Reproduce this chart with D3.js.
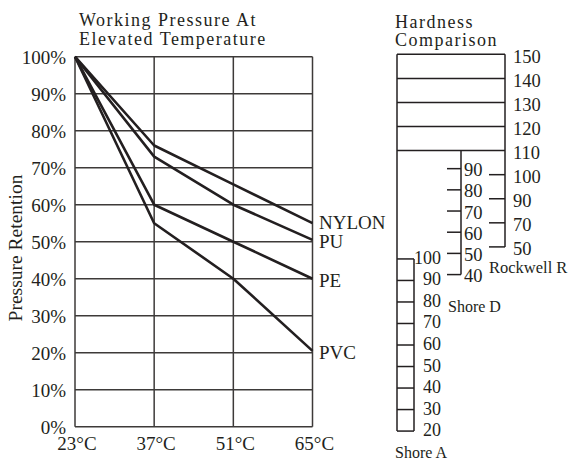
<!DOCTYPE html>
<html>
<head>
<meta charset="utf-8">
<script src="https://cdn.jsdelivr.net/npm/d3@7"></script>
<style>
  html, body { margin: 0; padding: 0; background: #fff; }
  svg { display: block; }
  text { font-family: "Liberation Serif", "Times New Roman", serif; fill: #231f20; }
</style>
</head>
<body>
<svg id="chart" width="568" height="460"></svg>
<script>
// --- working pressure data ---
const temps = [23, 37, 51, 65];
const tempLabels = ["23°C", "37°C", "51°C", "65°C"];
const percentTicks = [0, 10, 20, 30, 40, 50, 60, 70, 80, 90, 100];
const materials = ["NYLON", "PU", "PE", "PVC"];
const nylon = [100, 76, 65.5, 55];
const pu = [100, 73, 60, 50.5];
const pe = [100, 60, 50, 40];
const pvc = [100, 55, 40, 20.5];

// --- hardness comparison data ---
const rockwellR = [150, 140, 130, 120, 110, 100, 90, 70, 50]; // one row each
const rockwellBox = [150, 140, 130, 120, 110]; // boxed part
const shoreD = [90, 80, 70, 60, 50, 40];
const shoreDRows = [4.75, 9.15]; // rows where 90 / 40 line up
const shoreA = [100, 90, 80, 70, 60, 50, 40, 30, 20];
const shoreARows = [8.5, 15.65]; // rows where 100 / 20 line up

const INK = "#231f20";
const svg = d3.select("#chart");

// ---------------- left chart ----------------
const x = d3.scaleLinear().domain([23, 65]).range([75, 312.5]);
const y = d3.scaleLinear().domain([0, 100]).range([426.7, 56.7]);

const grid = svg.append("g").attr("stroke", "#3d3a39").attr("stroke-width", 1.5);
percentTicks.forEach((p) => {
  grid.append("line")
    .attr("x1", x(23)).attr("x2", x(65))
    .attr("y1", y(p)).attr("y2", y(p));
});
temps.forEach((t) => {
  grid.append("line")
    .attr("x1", x(t)).attr("x2", x(t))
    .attr("y1", y(0)).attr("y2", y(100));
});

// y tick labels
svg.append("g").selectAll("text")
  .data(percentTicks)
  .join("text")
  .attr("x", 66)
  .attr("y", (d) => y(d) + 7)
  .attr("text-anchor", "end")
  .style("font-size", "19px")
  .text((d) => d + "%");

// x tick labels
svg.append("g").selectAll("text")
  .data(temps)
  .join("text")
  .attr("x", (d) => x(d) + 2)
  .attr("y", 450)
  .attr("text-anchor", "middle")
  .style("font-size", "19px")
  .text((d, i) => tempLabels[i]);

// axis title
svg.append("text")
  .attr("transform", `translate(21.5, 248) rotate(-90)`)
  .attr("text-anchor", "middle")
  .style("font-size", "19.5px")
  .text("Pressure Retention");

// chart title
svg.append("text").attr("x", 79).attr("y", 26)
  .style("font-size", "18px").style("letter-spacing", "1.5px")
  .text("Working Pressure At");
svg.append("text").attr("x", 79).attr("y", 45)
  .style("font-size", "18px").style("letter-spacing", "1.5px")
  .text("Elevated Temperature");

// series lines
const series = [nylon, pu, pe, pvc];
const line = d3.line()
  .x((d, i) => x(temps[i]))
  .y((d) => y(d));
svg.append("g").selectAll("path")
  .data(series)
  .join("path")
  .attr("d", line)
  .attr("fill", "none")
  .attr("stroke", INK)
  .attr("stroke-width", 2.6)
  .attr("stroke-linejoin", "round");

// series labels, nudged up when they crowd the one below
let labelY = series.map((s) => y(s[s.length - 1]) + 8);
for (let i = labelY.length - 2; i >= 0; i--) {
  if (labelY[i + 1] - labelY[i] < 18.5) labelY[i] = labelY[i + 1] - 18.5;
}
svg.append("g").selectAll("text")
  .data(materials)
  .join("text")
  .attr("x", x(65) + 6.5)
  .attr("y", (d, i) => labelY[i])
  .style("font-size", "19px")
  .text((d) => d);

// ---------------- hardness comparison ----------------
const row = d3.scaleLinear().domain([0, 8]).range([54.3, 246.9]);
const rY = d3.scalePoint().domain(rockwellR).range([row(0), row(8)]);
const dY = d3.scaleLinear().domain([90, 40]).range(shoreDRows.map(row));
const aY = d3.scaleLinear().domain([100, 20]).range(shoreARows.map(row));

const boxL = 397, boxR = 505, dX = 461, aR = 414;
const hg = svg.append("g").attr("stroke", INK).attr("stroke-width", 1.5).attr("fill", "none");

// boxed rows 150..110
rockwellBox.forEach((v) => {
  hg.append("line").attr("x1", boxL).attr("x2", boxR).attr("y1", rY(v)).attr("y2", rY(v));
});
// outer verticals
hg.append("line").attr("x1", boxL).attr("x2", boxL).attr("y1", rY(150)).attr("y2", aY(20));
hg.append("line").attr("x1", boxR).attr("x2", boxR).attr("y1", rY(150)).attr("y2", rY(50));
// rockwell ticks below the box
rockwellR.filter((v) => v < 110).forEach((v) => {
  hg.append("line").attr("x1", boxR - 16).attr("x2", boxR).attr("y1", rY(v)).attr("y2", rY(v));
});
// shore D scale
hg.append("line").attr("x1", dX).attr("x2", dX).attr("y1", rY(110)).attr("y2", dY(40));
shoreD.forEach((v) => {
  hg.append("line").attr("x1", dX - 14).attr("x2", dX).attr("y1", dY(v)).attr("y2", dY(v));
});
// shore A scale
hg.append("line").attr("x1", aR).attr("x2", aR).attr("y1", aY(100)).attr("y2", aY(20));
shoreA.forEach((v) => {
  hg.append("line").attr("x1", boxL).attr("x2", aR).attr("y1", aY(v)).attr("y2", aY(v));
});

// labels
svg.append("g").selectAll("text")
  .data(rockwellR)
  .join("text")
  .attr("x", 513)
  .attr("y", (d) => rY(d) + 8.5)
  .style("font-size", "18.5px")
  .text((d) => d);
svg.append("g").selectAll("text")
  .data(shoreD)
  .join("text")
  .attr("x", dX + 3)
  .attr("y", (d) => dY(d) + 7.5)
  .style("font-size", "18.5px")
  .text((d) => d);
svg.append("g").selectAll("text")
  .data(shoreA)
  .join("text")
  .attr("x", 441)
  .attr("y", (d) => aY(d) + 5)
  .attr("text-anchor", "end")
  .style("font-size", "18px")
  .text((d) => d);

svg.append("text").attr("x", 489).attr("y", 273).style("font-size", "16.5px").text("Rockwell R");
svg.append("text").attr("x", 448).attr("y", 311.5).style("font-size", "16px").text("Shore D");
svg.append("text").attr("x", 395).attr("y", 458).style("font-size", "16px").text("Shore A");

svg.append("text").attr("x", 395).attr("y", 28.3)
  .style("font-size", "18px").style("letter-spacing", "1.5px").text("Hardness");
svg.append("text").attr("x", 395).attr("y", 45.7)
  .style("font-size", "18px").style("letter-spacing", "1.5px").text("Comparison");
</script>
</body>
</html>
